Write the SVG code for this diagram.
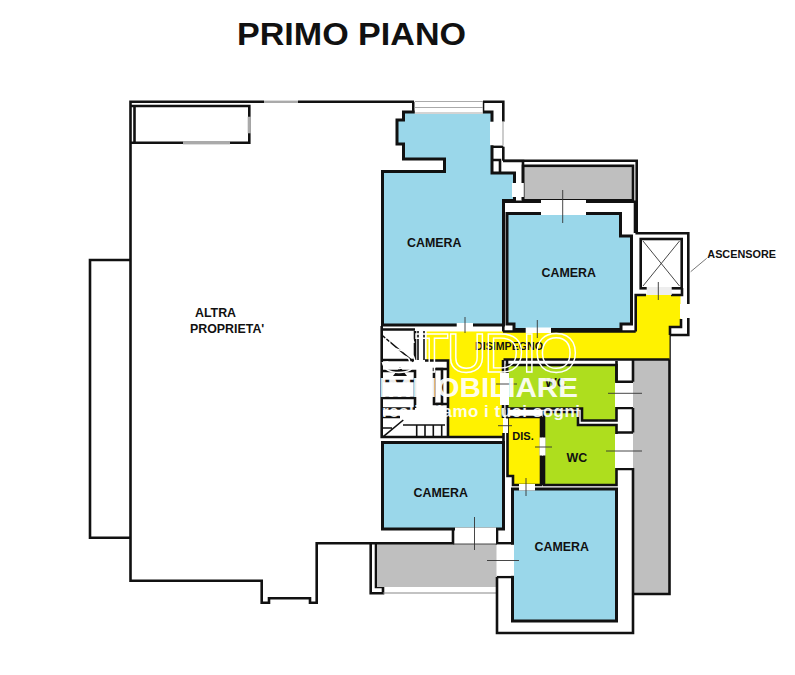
<svg xmlns="http://www.w3.org/2000/svg" width="795" height="675" viewBox="0 0 795 675">
<style>
.w{fill:none;stroke:#111;stroke-width:2.6;stroke-linejoin:miter}
.b{fill:#9ad7ea;stroke:#111;stroke-width:3}
.y{fill:#fff200;stroke:#111;stroke-width:2.6}
.g{fill:#aede1e;stroke:#111;stroke-width:2.6}
.t{fill:#bfbfbf;stroke:#111;stroke-width:2.6}
.o{fill:#fff;stroke:none}
.f{fill:#fff;stroke:#111;stroke-width:2.6}
.h{fill:none;stroke:#aaa;stroke-width:1.2}
.k{fill:none;stroke:#333;stroke-width:.9}
.s{fill:none;stroke:#111;stroke-width:1.6}
text{font-family:"Liberation Sans",Arial,sans-serif;font-weight:700;fill:#111}
.l{font-size:12.4px}
.wm{fill:#fff}
</style>
<rect width="795" height="675" fill="#fff"/>
<g id="title"><text x="237" y="45" font-size="32" textLength="229" lengthAdjust="spacingAndGlyphs">PRIMO PIANO</text></g>

<g id="altra-proprieta">
<path class="w" d="M264,101.7H130.5V580.7H261.7V602.7H269V598.3H310V602.7H316.7V543.3H370.7V593.3H383V587H376V544"/>
<path class="w" d="M298,101.7H414"/>
<path class="w" d="M130.5,260H90V537.7H130.5"/>
<path class="w" d="M130.5,106H249.3V142.7H130.5M134.5,106V142.7"/>
<rect x="183" y="141" width="47" height="3.4" fill="#aaa"/>
<rect x="247.7" y="116.7" width="3.2" height="16.6" fill="#aaa"/>
<rect x="264" y="100.6" width="34" height="2.4" fill="#aaa"/>
<text x="195" y="317.3" class="l">ALTRA</text>
<text x="190" y="333.3" class="l">PROPRIETA'</text>
</g>

<g id="terrazzo-nord">
<path class="w" d="M503.3,160.7H636.7V233.3H688.3V304M688.3,318V335H670"/>
<rect class="t" x="523" y="165.8" width="110" height="34.5"/>
</g>

<g id="terrazzo-est">
<rect x="633" y="360" width="36" height="234" fill="#bfbfbf"/>
<path class="w" d="M669.5,335V594H633"/>
</g>

<g id="terrazzo-sud">
<rect x="377" y="544" width="120" height="43" fill="#bfbfbf"/>
<path class="w" d="M370.7,543.3H453V529M497,529V543.3H513"/>
<path d="M383,593H497" stroke="#888" stroke-width="1.2"/>
<path class="w" d="M497,577H513M497,577V633H633V468"/>
</g>

<g id="disimpegno">
<path d="M426.7,329V360.5H448V436.7H503.5V359.5H669.5V326.7H680.5V294.5H635.7V331.5H426.7Z" fill="#fff200"/>
<path class="w" d="M425,360.5H448V437M503.5,359.5H669.5M635.7,331.5V295H646M671,295H682V288M382,329.5H415M503,331.5H635.7"/>
<path class="w" d="M681,319V327H670V335"/>
<text x="475" y="350" font-size="10.6" textLength="68" lengthAdjust="spacingAndGlyphs">DISIMPEGNO</text>
</g>

<g id="dis">
<polygon class="y" points="507.5,417 541,417 541,485 513,485 513,476 507.5,476"/>
<text x="512.3" y="440" font-size="11">DIS.</text>
</g>

<g id="wc1">
<polygon class="g" points="507,365 616.5,365 616.5,420.5 582,420.5 582,408.5 507,408.5"/>
<text x="545" y="387" class="l">WC</text>
</g>

<g id="wc2">
<polygon class="g" points="544,412 578,412 578,425 616.5,425 616.5,485 544,485"/>
<text x="566.5" y="461.7" class="l">WC</text>
</g>

<g id="camera1">
<polygon class="b" points="382.5,171.5 444.5,171.5 444.5,159 403.5,159 403.5,144 397,144 397,120 403.5,120 403.5,112 492,112 492,173 514.5,173 514.5,200.5 503.5,200.5 503.5,325 382.5,325"/>
<text x="407" y="246.7" class="l">CAMERA</text>
</g>

<g id="camera2">
<polygon class="b" points="507,213.5 620.5,213.5 620.5,236 631.5,236 631.5,324 621,324 621,329.5 514,329.5 514,324 507,324"/>
<text x="541.5" y="276.7" class="l">CAMERA</text>
</g>

<g id="camera3">
<rect class="b" x="382.5" y="442.5" width="121" height="86.5"/>
<text x="413.5" y="496.7" class="l">CAMERA</text>
</g>

<g id="camera4">
<rect class="b" x="512.5" y="489" width="104" height="132"/>
<text x="534.5" y="550.7" class="l">CAMERA</text>
</g>

<g id="muri">
<path class="w" d="M413.3,101.7V112M483,101.7V112M483,101.7H503.3V121.7M503.3,146.7V160.7M493,146.7H503.3M492,160H500V172M503,161H523V200M503.3,201.7H541M585,201.7H635V233M503.3,202V331.5M503,360V373M503,405V418M507,360V373M507,405V418M503.5,433V443"/>
<path class="w" d="M616.5,381.7H633M616.5,408H633M616.5,432.5H633M616.5,469H633M616.5,361V381.7M633,360V381.7M633,408V432.5"/>
<path class="w" d="M543,417V437.5M543,456V485"/>
</g>

<g id="ascensore">
<rect class="f" x="640.7" y="239" width="41" height="49.3"/>
<path class="k" d="M643,241L679.5,286M679.5,241L643,286" stroke="#666"/>
<path d="M706.7,258.3L690.7,271.7" stroke="#777" stroke-width="1"/>
<text x="707.3" y="257.7" font-size="11" textLength="68.7" lengthAdjust="spacingAndGlyphs">ASCENSORE</text>
</g>

<g id="scala">
<path class="w" d="M381.7,326V437H503"/>
<path class="w" d="M415,331V360M382,360H415M381.7,371H415V408M382,381H415M382,398H415M382,408.5H415M382,417H400"/>
<path class="s" d="M418,331V360M424,331V360M381.7,335L413.3,361.7M383.3,436.7L403.3,420M382,428H392M403,425H445M416.7,425V437M425,425V437M433.3,425V437M441.7,425V437"/>
<path class="f" d="M434,369H442V404H434Z" style="fill:#fff"/>
<path class="w" d="M436,369H447M436,404H447"/>
<polygon points="400,367 393,376 407,376" fill="#111"/>
</g>

<g id="aperture">
<rect class="o" x="414.8" y="100.5" width="68" height="13.5"/>
<path class="h" d="M415,101.5H483M415,107.5H483M415,113H483"/>
<rect class="o" x="490" y="121.7" width="14.5" height="23.5"/>
<path class="h" d="M503,121.7V145"/>
<rect class="o" x="512" y="183" width="11.8" height="14"/>
<rect class="o" x="541" y="200" width="45" height="15"/>
<rect class="o" x="456.7" y="323" width="16.3" height="5.5"/>
<rect class="o" x="525.7" y="327.5" width="25.3" height="5.5"/>
<rect x="646.7" y="287" width="25" height="8" fill="#eee"/>
<rect class="o" x="680" y="304" width="9.5" height="14"/>
<rect class="o" x="500" y="373" width="9" height="32"/>
<rect class="o" x="503" y="418.5" width="5" height="14.5"/>
<rect class="o" x="539.5" y="437.5" width="6" height="18"/>
<rect class="o" x="519" y="484" width="16" height="6.5"/>
<rect class="o" x="615" y="383" width="18" height="24"/>
<rect class="o" x="615" y="434" width="18" height="34"/>
<rect class="o" x="455" y="527.5" width="41" height="16.5"/>
<rect class="o" x="496.5" y="544.8" width="17.5" height="31"/>
<path class="k" d="M562.7,190V223M465,317V333M537.3,320V338M658.3,282V300M496,384H517M498,425.7H512M535,447H552M526,478V496M608,393.3H642M606,451H642M474.5,517V550M487,560.5H519M453,544H497"/>
</g>

<g id="filigrana">
<text class="wm" x="380" y="372" font-size="56" textLength="198" style="fill:none;stroke:#fff;stroke-width:1.4;font-weight:400">STUDIO</text>
<text class="wm" x="379" y="396.7" font-size="28" textLength="199" lengthAdjust="spacingAndGlyphs" opacity=".92">IMMOBILIARE</text>
<text class="wm" x="382" y="416.7" font-size="17" textLength="198" opacity=".92">realizziamo i tuoi sogni</text>
</g>
</svg>
